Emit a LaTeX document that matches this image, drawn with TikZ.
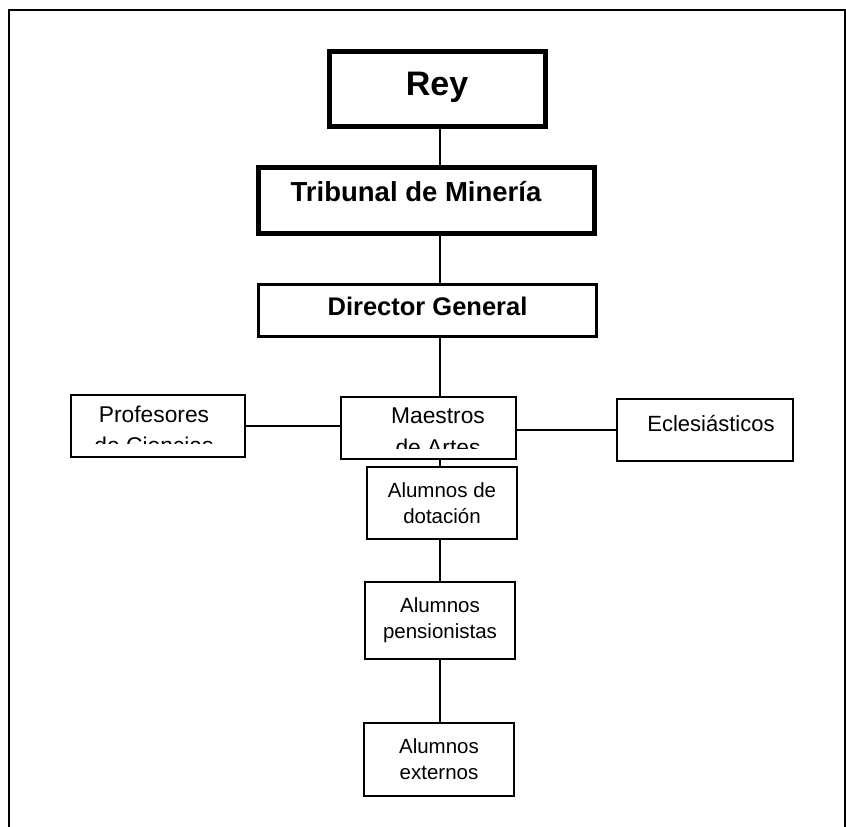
\documentclass[tikz,border=0pt]{standalone}
\usepackage{fontspec}
\setmainfont{Liberation Sans}

\begin{document}
\begin{tikzpicture}[x=1pt, y=-1pt,
	box/.style = {draw, inner sep=0pt},
	boss/.style = {box, line width=5pt},
	unit/.style = {box, line width=1.6pt},
	alumno/.style = {unit, minimum width=150pt, minimum height=73pt, align=center,
		font=\fontsize{20.5}{26}\selectfont},
	txt/.style = {inner sep=0pt, anchor=base, font=\fontsize{22}{26}\selectfont},
	link/.style = {line width=1.6pt}]
	\useasboundingbox (0,0) rectangle (846,827);
	\draw[line width=2pt] (9,827) -- (9,10) -- (845,10) -- (845,827);

	\node[boss, minimum width=216pt, minimum height=75pt] (rey) at (437.5,89) {};
	\node[boss, minimum width=336pt, minimum height=66pt] (trib) at (426.5,200.5) {};
	\node[box, line width=3pt, minimum width=338pt, minimum height=52pt] (dir) at (427.5,310.5) {};
	\node[unit, minimum width=174pt, minimum height=62pt] (prof) at (158,426) {};
	\node[unit, minimum width=175pt, minimum height=62pt] (maes) at (428.5,428) {};
	\node[unit, minimum width=176pt, minimum height=62pt] (ecles) at (705,430) {};
	\node[alumno, minimum height=72pt] (dot) at (442,503) {Alumnos de\\dotación};
	\node[alumno, minimum height=77pt] (pens) at (440,620.5) {Alumnos\\pensionistas};
	\node[alumno] (ext) at (439,759.5) {Alumnos\\externos};

	\node[txt, font=\fontsize{34}{40}\bfseries] (reytext) at (437,95) {Rey};
	\node[txt, font=\fontsize{27.5}{32}\bfseries] (tribtext) at (416,201) {Tribunal de Minería};
	\node[txt, font=\fontsize{25.5}{30}\bfseries] (dirtext) at (427.5,315) {Director General};
	\node[txt] (eclestext) at (711,431) {Eclesiásticos};
	\begin{scope}[txt/.append style={font=\fontsize{22.8}{26}\selectfont}]
		\clip (prof.north west) rectangle ([yshift=14pt]prof.south east);
		\node[txt] (proftext) at (154,422) {Profesores};
		\node[txt] (proftext2) at (154,453) {de Ciencias};
	\end{scope}
	\begin{scope}[txt/.append style={font=\fontsize{22.8}{26}\selectfont}]
		\clip (maes.north west) rectangle ([yshift=11pt]maes.south east);
		\node[txt] (maestext) at (438,423) {Maestros};
		\node[txt] (maestext2) at (438,455) {de Artes};
	\end{scope}

	\coordinate (axis) at (440,0);
	\draw[link] (rey.south -| axis) -- (trib.north -| axis);
	\draw[link] (trib.south -| axis) -- (dir.north -| axis);
	\draw[link] (dir.south -| axis) -- (maes.north -| axis);
	\draw[link] (maes.south -| axis) -- (dot.north -| axis);
	\draw[link] (dot.south -| axis) -- (pens.north -| axis);
	\draw[link] (pens.south -| axis) -- (ext.north -| axis);
	\draw[link] (prof.east) -- (prof.east -| maes.west);
	\draw[link] (ecles.west -| maes.east) -- (ecles.west);
\end{tikzpicture}
\end{document}
